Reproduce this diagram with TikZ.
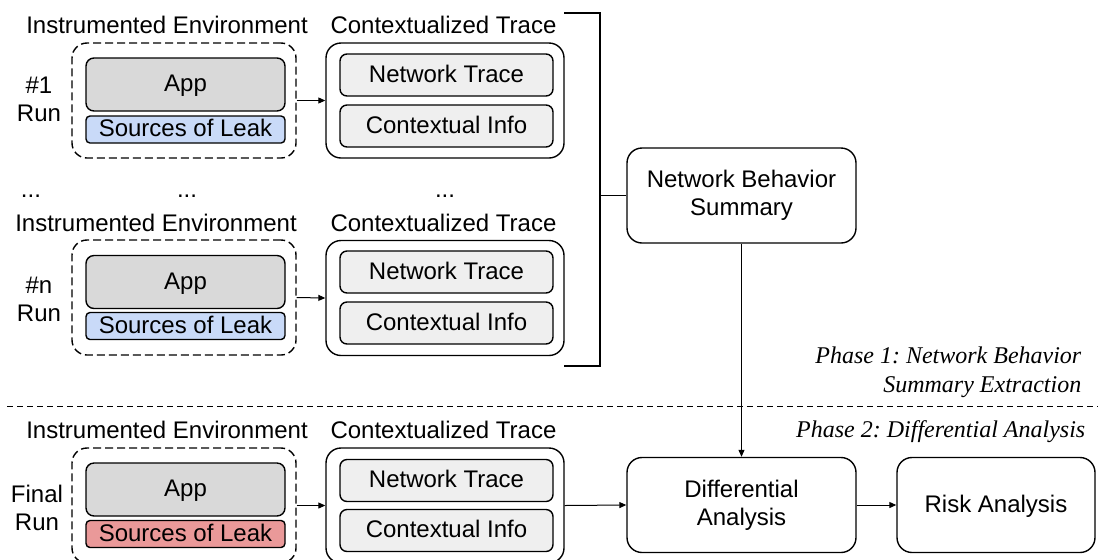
\documentclass[tikz,border=0pt]{standalone}
\usepackage{fontspec}
\setmainfont{Liberation Sans}
\newfontfamily\phasefont{Liberation Serif}
\usetikzlibrary{arrows.meta}
\frenchspacing

\definecolor{appgray}{HTML}{D9D9D9}
\definecolor{leakblue}{HTML}{C9DAF8}
\definecolor{leakred}{HTML}{EA9999}
\definecolor{tracegray}{HTML}{EFEFEF}

\begin{document}
\begin{tikzpicture}[x=0.5pt, y=-0.5pt,
  every node/.style={align=center, font=\fontsize{12}{14}\selectfont},
  line width=0.7pt,
  envbox/.style={draw, dash pattern=on 4pt off 2pt, rounded corners=7.5pt,
    minimum width=112pt, minimum height=57.5pt, inner sep=0pt},
  tracebox/.style={draw, rounded corners=7.5pt,
    minimum width=119pt, minimum height=57.5pt, inner sep=0pt},
  onebox/.style={draw, inner sep=0pt, text height=0.9em, text depth=0.2em},
  appbox/.style={onebox, fill=appgray, rounded corners=4pt,
    minimum width=99.5pt, minimum height=26.5pt},
  leakbox/.style={onebox, rounded corners=2pt,
    minimum width=99.5pt, minimum height=13.5pt},
  innerbox/.style={onebox, fill=tracegray, rounded corners=3.5pt,
    minimum width=106.5pt, minimum height=21pt},
  stagebox/.style={draw, rounded corners=7.5pt,
    minimum width=114.5pt, minimum height=47.5pt, inner sep=0pt},
  arr/.style={-{Triangle[length=3.5pt,width=3pt]}, line width=0.5pt},
  phase/.style={font=\fontsize{12}{14.5}\selectfont\phasefont\itshape,
    align=right, inner sep=0pt}]

  \useasboundingbox (0,0) rectangle (1098,559);
  \clip (0,0) rectangle (1098,559);

  % --- Parameter ---
  \def\envx{184}     % Mitte der Umgebungsboxen
  \def\appx{185.5}   % Mitte von App / Sources of Leak
  \def\trx{445}      % Mitte der Trace-Boxen
  \def\inx{446.5}    % Mitte der inneren Trace-Boxen

  % --- Run 1 ---
  \node (envlbl1) at (167,25) {Instrumented Environment};
  \node (trlbl1)  at (443.5,25) {Contextualized Trace};
  \node (run1) at (39,99.5) {\#1\\Run};
  \node[envbox]   (env1)   at (\envx,100.5) {};
  \node[appbox]   (app1)   at (\appx,84.5) {App};
  \node[leakbox, fill=leakblue] (leak1) at (\appx,129.5) {Sources of Leak};
  \node[tracebox] (trace1) at (\trx,100.5) {};
  \node[innerbox] (net1)   at (\inx,75) {Network Trace};
  \node[innerbox] (ctx1)   at (\inx,126) {Contextual Info};
  \draw[arr] (env1.east) -- (trace1.west);

  % --- Auslassung ---
  \node[anchor=base] (dotsA) at (31,197) {...};
  \node[anchor=base] (dotsB) at (187,197) {...};
  \node[anchor=base] (dotsC) at (445,197) {...};

  % --- Run n ---
  \node (envlbl2) at (156,223) {Instrumented Environment};
  \node (trlbl2)  at (443.5,223) {Contextualized Trace};
  \node (run2) at (39,299) {\#n\\Run};
  \node[envbox]   (env2)   at (\envx,297.5) {};
  \node[appbox]   (app2)   at (\appx,282) {App};
  \node[leakbox, fill=leakblue] (leak2) at (\appx,326) {Sources of Leak};
  \node[tracebox] (trace2) at (\trx,298) {};
  \node[innerbox] (net2)   at (\inx,272) {Network Trace};
  \node[innerbox] (ctx2)   at (\inx,323) {Contextual Info};
  \draw[arr] (env2.east) -- (trace2.west);

  % --- Klammer und Zusammenfassung ---
  \coordinate (brTL) at (564,13);
  \coordinate (brTR) at (600,13);
  \coordinate (brBR) at (600,366);
  \coordinate (brBL) at (564,366);
  \draw[line width=0.6pt] (brTL) -- (brTR) -- (brBR) -- (brBL);
  \node[stagebox] (nbs) at (741.5,195.5) {Network Behavior\\Summary};
  \draw[line width=0.6pt] (nbs.west) -- (nbs.west -| brTR);

  % --- Trennlinie der Phasen ---
  \coordinate (sepL) at (7,406);
  \coordinate (sepR) at (1098,406);
  \draw[line width=0.5pt, dash pattern=on 3pt off 2pt] (sepL) -- (sepR);
  \node[phase, anchor=east] (ph1) at (1082,372.5) {Phase 1: Network Behavior\\Summary Extraction};
  \node[phase, anchor=east] (ph2) at (1086,432) {Phase 2: Differential Analysis};

  % --- Final Run ---
  \node (envlbl3) at (167,430) {Instrumented Environment};
  \node (trlbl3)  at (443.5,430) {Contextualized Trace};
  \node (run3) at (37,507.5) {Final\\Run};
  \node[envbox]   (env3)   at (\envx,505.5) {};
  \node[appbox]   (app3)   at (\appx,489.5) {App};
  \node[leakbox, fill=leakred] (leak3) at (\appx,534) {Sources of Leak};
  \node[tracebox] (trace3) at (\trx,505.5) {};
  \node[innerbox] (net3)   at (\inx,480.5) {Network Trace};
  \node[innerbox] (ctx3)   at (\inx,530.5) {Contextual Info};
  \draw[arr] (env3.east) -- (trace3.west);

  % --- Analyse ---
  \node[stagebox] (diff) at (741.5,505) {Differential\\Analysis};
  \node[stagebox, minimum width=99pt, text height=0.9em, text depth=0.2em] (risk) at (996,505) {Risk Analysis};
  \draw[arr] (trace3.east) -- (diff.west);
  \draw[arr] (diff.east) -- (risk.west);
  \draw[arr] (nbs.south) -- (diff.north);

\end{tikzpicture}
\end{document}
